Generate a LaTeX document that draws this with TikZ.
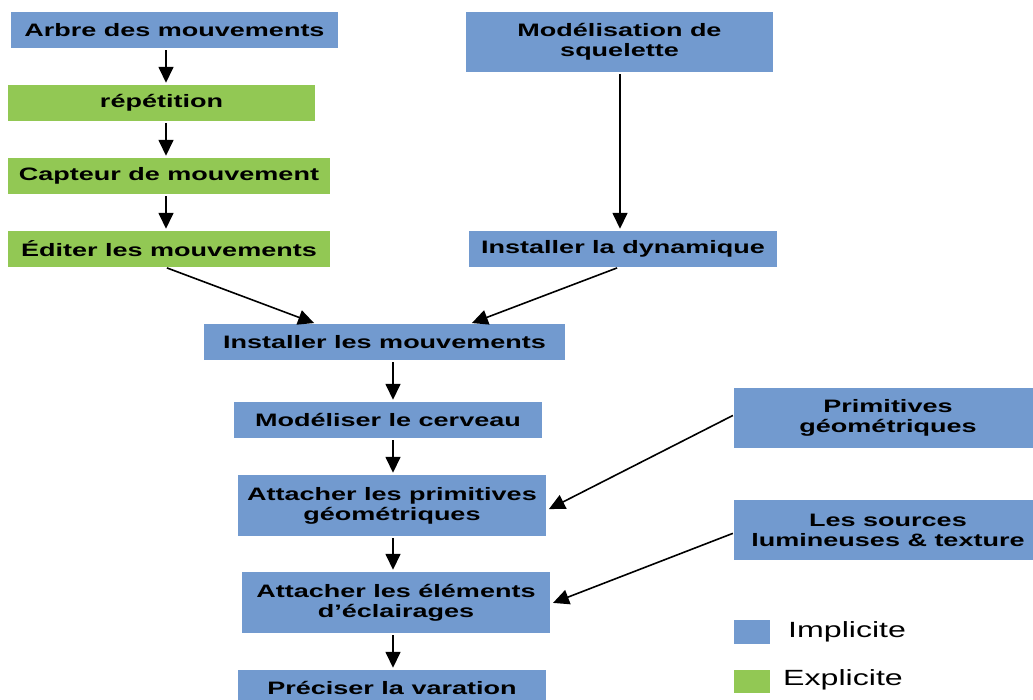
\documentclass[tikz,border=0pt]{standalone}
\usepackage{fontspec}
\setmainfont{Liberation Sans}[FakeStretch=1.46,BoldFeatures={FakeStretch=1.5}]
\usetikzlibrary{arrows.meta}
\definecolor{bleuimp}{RGB}{114,154,207}
\definecolor{vertexp}{RGB}{146,200,84}
\begin{document}
\begin{tikzpicture}[x=1pt,y=1pt,
  boite/.style={fill=bleuimp,minimum height=36pt,inner sep=0pt,align=center,
    font=\fontsize{18}{20}\selectfont\bfseries},
  explicite/.style={boite,fill=vertexp},
  fleche/.style={line width=1.6pt,-{Triangle[length=16pt,width=15pt]},
    shorten >=2pt,shorten <=2pt},
  legende/.style={anchor=west,inner sep=0pt,font=\fontsize{22}{24}\selectfont}]
  \useasboundingbox (0,0) rectangle (1033,700);
  % colonne de gauche
  \node[boite,minimum width=327pt] (arbre) at (174.5,670) {Arbre des mouvements};
  \node[explicite,minimum width=307pt] (repet) at (161.5,597) {répétition};
  \node[explicite,minimum width=322pt] (capteur) at (169,524) {Capteur de mouvement};
  \node[explicite,minimum width=322pt] (editer) at (169,451) {Éditer les mouvements};
  % colonne de droite
  \node[boite,minimum width=307pt,minimum height=60pt] (squel) at (619.5,658) {Modélisation de\\squelette};
  \node[boite,minimum width=308pt] (dyn) at (623,451) {Installer la dynamique};
  % suite centrale
  \node[boite,minimum width=361pt] (instmv) at (384.5,358) {Installer les mouvements};
  \node[boite,minimum width=308pt] (cerveau) at (388,280) {Modéliser le cerveau};
  \node[boite,minimum width=308pt,minimum height=61pt] (attprim) at (392,194.5) {Attacher les primitives\\géométriques};
  \node[boite,minimum width=308pt,minimum height=61pt] (attecl) at (396,97.5) {Attacher les éléments\\d’éclairages};
  \node[boite,minimum width=308pt] (preciser) at (392,12) {Préciser la varation};
  % entrées à droite
  \node[boite,minimum width=308pt,minimum height=60pt] (prims) at (888,282) {Primitives\\géométriques};
  \node[boite,minimum width=308pt,minimum height=60pt] (sources) at (888,170) {Les sources\\lumineuses \& texture};
  % légende
  \node[fill=bleuimp,minimum width=36pt,minimum height=24pt,inner sep=0pt] (legimp) at (752,68) {};
  \node[fill=vertexp,minimum width=36pt,minimum height=23pt,inner sep=0pt] (legexp) at (752,18.5) {};
  \node[legende] (txtimp) at (788,68) {Implicite};
  \node[legende] (txtexp) at (783,20) {Explicite};
  % flèches
  \draw[fleche] ([xshift=-8.5pt]arbre.south) -- ([xshift=4.5pt]repet.north);
  \draw[fleche] ([xshift=4.5pt]repet.south) -- ([xshift=-3pt]capteur.north);
  \draw[fleche] ([xshift=-3pt]capteur.south) -- ([xshift=-3pt]editer.north);
  \draw[fleche] ([xshift=0.5pt]squel.south) -- ([xshift=-3pt]dyn.north);
  \draw[fleche] ([xshift=-4pt]editer.south) -- ([xshift=-68.5pt]instmv.north);
  \draw[fleche] ([xshift=-4pt]dyn.south) -- ([xshift=85.5pt]instmv.north);
  \draw[fleche] ([xshift=8.5pt]instmv.south) -- ([xshift=5pt]cerveau.north);
  \draw[fleche] ([xshift=5pt]cerveau.south) -- ([xshift=1pt]attprim.north);
  \draw[fleche] ([xshift=1pt]attprim.south) -- ([xshift=-3pt]attecl.north);
  \draw[fleche] ([xshift=-3pt]attecl.south) -- ([xshift=1pt]preciser.north);
  \draw[fleche,shorten <=1pt,shorten >=3pt] ([yshift=3pt]prims.west) -- ([yshift=-5pt]attprim.east);
  \draw[fleche,shorten <=1pt,shorten >=3pt] ([yshift=-3pt]sources.west) -- ([yshift=-1.5pt]attecl.east);
\end{tikzpicture}
\end{document}
